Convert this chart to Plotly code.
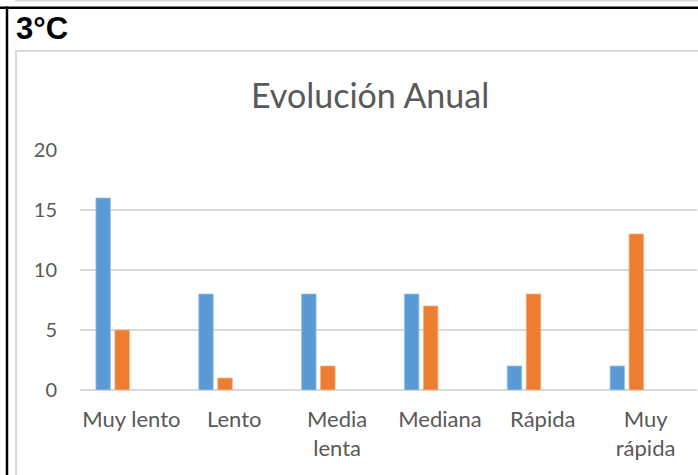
import plotly.graph_objects as go

categories = ["Muy lento", "Lento", "Media lenta", "Mediana", "Rápida", "Muy rápida"]
tick_labels = ["Muy lento", "Lento", "Media<br>lenta", "Mediana", "Rápida", "Muy<br>rápida"]
serie_azul = [16, 8, 8, 8, 2, 2]
serie_naranja = [5, 1, 2, 7, 8, 13]
y_ticks = [0, 5, 10, 15, 20]

W, H = 698, 475
L, R, T, B = 80, 1, 150, 85
pw, ph = W - L - R, H - T - B


def px(x):
    return (x - L) / pw


def py(y):
    return (H - B - y) / ph


cat_px = pw / len(categories)
bar_w = 14.5 / cat_px

fig = go.Figure()
fig.add_trace(go.Bar(
    x=categories, y=serie_azul, marker=dict(color="#5B9BD5", line=dict(color="#9DC3E6", width=0.8)),
    width=bar_w, offset=-35.5 / cat_px, hoverinfo="skip"))
fig.add_trace(go.Bar(
    x=categories, y=serie_naranja, marker=dict(color="#ED7D31", line=dict(color="#F4B183", width=0.8)),
    width=bar_w, offset=-16.5 / cat_px, hoverinfo="skip"))

gray = "#D9D9D9"
shapes = [
    dict(type="line", xref="paper", yref="paper", x0=px(15), x1=px(698), y0=py(0.7), y1=py(0.7),
         line=dict(color=gray, width=1.5)),
    dict(type="line", xref="paper", yref="paper", x0=px(0), x1=px(698), y0=py(7.7), y1=py(7.7),
         line=dict(color="black", width=2.5)),
    dict(type="line", xref="paper", yref="paper", x0=px(7), x1=px(7), y0=py(6.5), y1=py(476),
         line=dict(color="black", width=2.5)),
    dict(type="line", xref="paper", yref="paper", x0=px(16), x1=px(698), y0=py(51), y1=py(51),
         line=dict(color=gray, width=2)),
    dict(type="line", xref="paper", yref="paper", x0=px(16), x1=px(16), y0=py(50), y1=py(476),
         line=dict(color=gray, width=2)),
]

annotations = [
    dict(text="<b>3°C</b>", xref="paper", yref="paper", x=px(14), y=py(28), xanchor="left",
         yanchor="middle", showarrow=False, font=dict(family="Liberation Sans", size=31, color="black")),
    dict(text="Evolución Anual", xref="paper", yref="paper", x=px(370), y=py(95), xanchor="center",
         yanchor="middle", showarrow=False, font=dict(family="Lato", size=34, color="#595959")),
]

fig.update_layout(
    width=W, height=H,
    margin=dict(l=L, r=R, t=T, b=B),
    paper_bgcolor="white", plot_bgcolor="white",
    showlegend=False,
    barmode="overlay",
    shapes=shapes,
    annotations=annotations,
    font=dict(family="Lato", color="#595959", size=20),
)
fig.update_xaxes(
    type="category", categoryorder="array", categoryarray=categories,
    tickmode="array", tickvals=categories, ticktext=tick_labels,
    range=[-0.5, len(categories) - 0.5],
    showgrid=False, showline=False, zeroline=False, ticks="",
    ticklabelstandoff=14,
    tickfont=dict(family="Lato", size=22, color="#595959"),
)
fig.update_yaxes(
    range=[0, 20], tickmode="array", tickvals=y_ticks,
    showgrid=True, gridcolor=gray, gridwidth=1.5,
    zeroline=True, zerolinecolor=gray, zerolinewidth=1.5,
    showline=False, ticks="",
    ticklabelstandoff=22,
    tickfont=dict(family="Lato", size=20, color="#595959"),
)

fig.write_html("out.html", config={"displayModeBar": False},
               post_script="document.body.style.margin='0';document.body.style.overflow='hidden';")
